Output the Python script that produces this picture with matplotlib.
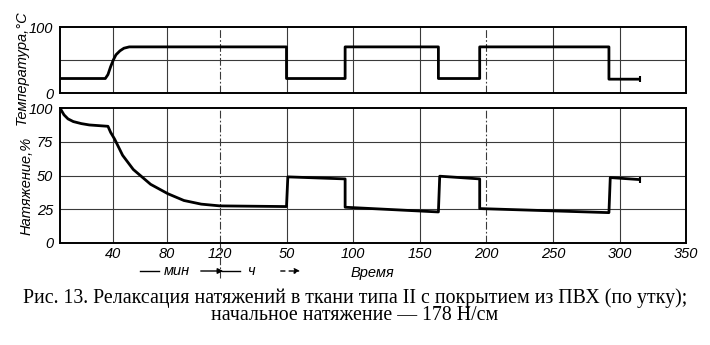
import matplotlib
matplotlib.use('Agg')
import matplotlib.pyplot as plt
from matplotlib.patches import FancyArrowPatch

# minutes part (0..120 min), then hours part (0..350 h)
temp_min_t = [0, 34, 36, 38, 40, 42, 45, 48, 52, 120]
temp_min_v = [22, 22, 28, 40, 50, 58, 64, 68, 70, 70]
temp_h_t = [0, 50, 50, 94, 94, 164, 164, 195, 195, 292, 292, 315]
temp_h_v = [70, 70, 22, 22, 70, 70, 22, 22, 70, 70, 21, 21]

tens_min_t = [0, 3, 6, 10, 16, 22, 29, 36, 38, 41, 47, 55, 68, 81, 93, 106, 120]
tens_min_v = [100, 95, 92, 90, 88.5, 87.5, 87, 86.5, 82, 77, 65, 54.5, 43.5, 36.5, 31.5, 28.8, 27.5]
tens_h_t = [0, 50, 51, 94, 94, 164, 165, 195, 195, 292, 293, 315]
tens_h_v = [27.5, 27, 49, 47.5, 26.5, 23, 49.5, 47.5, 25.5, 22.5, 48.5, 47]

xtick_pos = [40, 80, 120, 170, 220, 270, 320, 370, 420, 470]
xtick_lab = ['40', '80', '120', '50', '100', '150', '200', '250', '300', '350']

MIN_END = 120  # 120 min -> 0 h on the shared axis


def to_axis(t_min, t_h):
    return list(t_min) + [MIN_END + h for h in t_h]


sans = ['Liberation Sans', 'DejaVu Sans']
tick_font = dict(family=sans, style='italic', size=10.5)
lab_font = dict(family=sans, style='italic', size=10.5)
dashdot = (0, (7, 2, 1.5, 2))

fig = plt.figure(figsize=(7.1, 3.45), dpi=100)
ax1 = fig.add_axes([0.0845, 0.7304, 0.882, 0.191])
ax2 = fig.add_axes([0.0845, 0.2957, 0.882, 0.391])

grid_x = [40, 80, 120, 170, 220, 270, 320, 370, 420]
for ax, ys in [(ax1, [50]), (ax2, [25, 50, 75])]:
    ax.set_xlim(0, 470)
    ax.set_ylim(0, 100)
    for gx in grid_x:
        ls = dashdot if gx in (120, 320) else '-'
        ax.axvline(gx, color='#3a3a3a', lw=0.8, ls=ls, zorder=1)
    for gy in ys:
        ax.axhline(gy, color='#3a3a3a', lw=0.8, zorder=1)
    for s in ax.spines.values():
        s.set_linewidth(1.4)
    ax.tick_params(length=0, pad=5)

ax1.plot(to_axis(temp_min_t, temp_h_t), temp_min_v + temp_h_v, color='black', lw=2, zorder=3)
ax1.plot([MIN_END + temp_h_t[-1]], [temp_h_v[-1]], marker='|', color='black', ms=5, mew=1.5)
ax1.set_yticks([0, 100])
ax1.set_yticklabels(['0', '100'], **tick_font)
ax1.set_xticks([])

ax2.plot(to_axis(tens_min_t, tens_h_t), tens_min_v + tens_h_v, color='black', lw=2, zorder=3)
ax2.plot([MIN_END + tens_h_t[-1]], [tens_h_v[-1]], marker='|', color='black', ms=5, mew=1.5)
ax2.set_yticks([0, 25, 50, 75, 100])
ax2.set_yticklabels(['0', '25', '50', '75', '100'], **tick_font)
ax2.set_xticks(xtick_pos)
ax2.set_xticklabels(xtick_lab, **tick_font)
ax2.tick_params(axis='x', pad=3)

# break line continues below the axis
ax2.plot([120, 120], [0, -26], color='#3a3a3a', lw=0.8, ls=dashdot, clip_on=False)

fig.text(0.031, 1 - 68 / 345, 'Температура,°C', rotation=90, ha='center', va='center', **lab_font)
fig.text(0.038, 1 - 186 / 345, 'Натяжение,%', rotation=90, ha='center', va='center', **lab_font)

# unit markers under the axis
yrow = 1 - 271 / 345
fig.text(177 / 710, yrow, 'мин', ha='center', va='center', **lab_font)
fig.text(251 / 710, yrow, 'ч', ha='center', va='center', **lab_font)
fig.text(372 / 710, yrow - 0.006, 'Время', ha='center', va='center', **lab_font)
fig.add_artist(plt.Line2D([140 / 710, 159 / 710], [yrow, yrow], color='black', lw=1))
fig.add_artist(FancyArrowPatch((198 / 710, yrow), (226 / 710, yrow), arrowstyle='-|>',
                               mutation_scale=8, lw=1, color='black', transform=fig.transFigure))
fig.add_artist(plt.Line2D([222 / 710, 240 / 710], [yrow, yrow], color='black', lw=1))
fig.add_artist(FancyArrowPatch((278 / 710, yrow), (303 / 710, yrow), arrowstyle='-|>',
                               mutation_scale=8, lw=1, ls=(0, (3, 3)), color='black',
                               transform=fig.transFigure))

cap_font = dict(family=['Liberation Serif', 'DejaVu Serif'], size=14.3)
fig.text(0.5, 1 - 298 / 345, 'Рис. 13. Релаксация натяжений в ткани типа II с покрытием из ПВХ (по утку);',
         ha='center', va='center', **cap_font)
fig.text(0.5, 1 - 316 / 345, 'начальное натяжение — 178 Н/см', ha='center', va='center', **cap_font)

fig.savefig('out.png', dpi=100)
